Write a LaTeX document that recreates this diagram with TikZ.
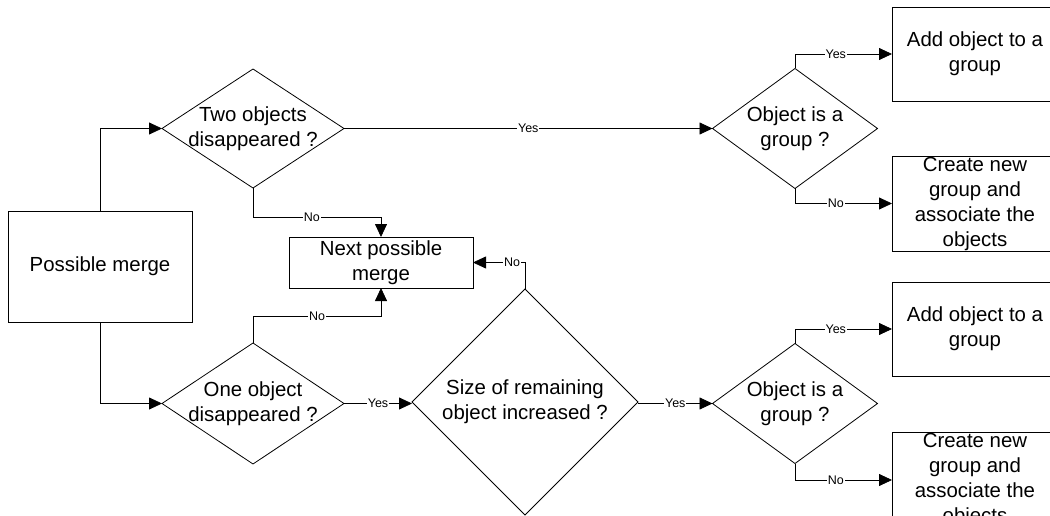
\documentclass[tikz,border=0pt]{standalone}
\usepackage{fontspec}
\setmainfont{Liberation Sans}
\usetikzlibrary{arrows.meta,shapes.geometric}

\tikzset{
  txt/.style={inner sep=0pt, align=center, font=\fontsize{20.4}{25}\selectfont},
  proc/.style={draw, rectangle, inner sep=0pt, outer sep=0pt, line width=0.8pt},
  decision/.style={draw, diamond, inner sep=0pt, outer sep=0pt, line width=0.8pt},
  flow/.style={line width=0.8pt, -{Triangle[length=13pt,width=12pt]}},
  lbl/.style={fill=white, inner sep=1pt, font=\fontsize{12.5}{13}\selectfont},
}

\begin{document}
\begin{tikzpicture}[x=1pt, y=-1pt]
  \useasboundingbox (0,0) rectangle (1050,516);
  \clip (0,0) rectangle (1050,516);

  % process boxes
  \node[proc, minimum width=184pt, minimum height=111pt,
        label={[txt]center:Possible merge}] (pm) at (100,266.5) {};
  \node[proc, minimum width=184pt, minimum height=51pt,
        label={[txt]center:Next possible\\merge}] (next) at (381,262.5) {};
  \node[proc, minimum width=166pt, minimum height=94pt,
        label={[txt]center:Add object to a\\group}] (add1) at (975,54) {};
  \node[proc, minimum width=166pt, minimum height=95pt,
        label={[txt]center:Create new\\group and\\associate the\\objects}] (new1) at (975,203.5) {};
  \node[proc, minimum width=166pt, minimum height=94pt,
        label={[txt]center:Add object to a\\group}] (add2) at (975,329) {};
  \node[proc, minimum width=166pt, minimum height=95pt,
        label={[txt]center:Create new\\group and\\associate the\\objects}] (new2) at (975,480) {};

  % decisions
  \node[decision, minimum width=182pt, minimum height=119pt,
        label={[txt]center:Two objects\\disappeared ?}] (two) at (253,128.5) {};
  \node[decision, minimum width=182pt, minimum height=121pt,
        label={[txt]center:One object\\disappeared ?}] (one) at (253,403.5) {};
  \node[decision, minimum width=226pt, minimum height=226pt,
        label={[txt]center:Size of remaining\\object increased ?}] (size) at (525,402) {};
  \node[decision, minimum width=165pt, minimum height=120pt,
        label={[txt]center:Object is a\\group ?}] (og1) at (795,128.5) {};
  \node[decision, minimum width=165pt, minimum height=120pt,
        label={[txt]center:Object is a\\group ?}] (og2) at (795,403.5) {};

  % connectors
  \draw[flow] (pm.north) |- (two.west);
  \draw[flow] (pm.south) |- (one.west);

  \draw[flow] (two.east) -- node[lbl]{Yes} (og1.west);
  \draw[flow] (two.south) -- ++(0,29) -| node[lbl, pos=0.23]{No} (next.north);

  \draw[flow] (one.north) -- ++(0,-27) -| node[lbl, pos=0.25]{No} (next.south);
  \draw[flow] (one.east) -- node[lbl]{Yes} (one.east -| size.west);

  \draw[flow] (size.north) |- node[lbl, pos=0.625]{No} (next.east);
  \draw[flow] (og2.west -| size.east) -- node[lbl]{Yes} (og2.west);

  \draw[flow] (og1.north) |- node[lbl, pos=0.71]{Yes} (add1.west);
  \draw[flow] (og1.south) |- node[lbl, pos=0.71]{No} (new1.west);
  \draw[flow] (og2.north) |- node[lbl, pos=0.71]{Yes} (add2.west);
  \draw[flow] (og2.south) |- node[lbl, pos=0.71]{No} (new2.west);
\end{tikzpicture}
\end{document}
